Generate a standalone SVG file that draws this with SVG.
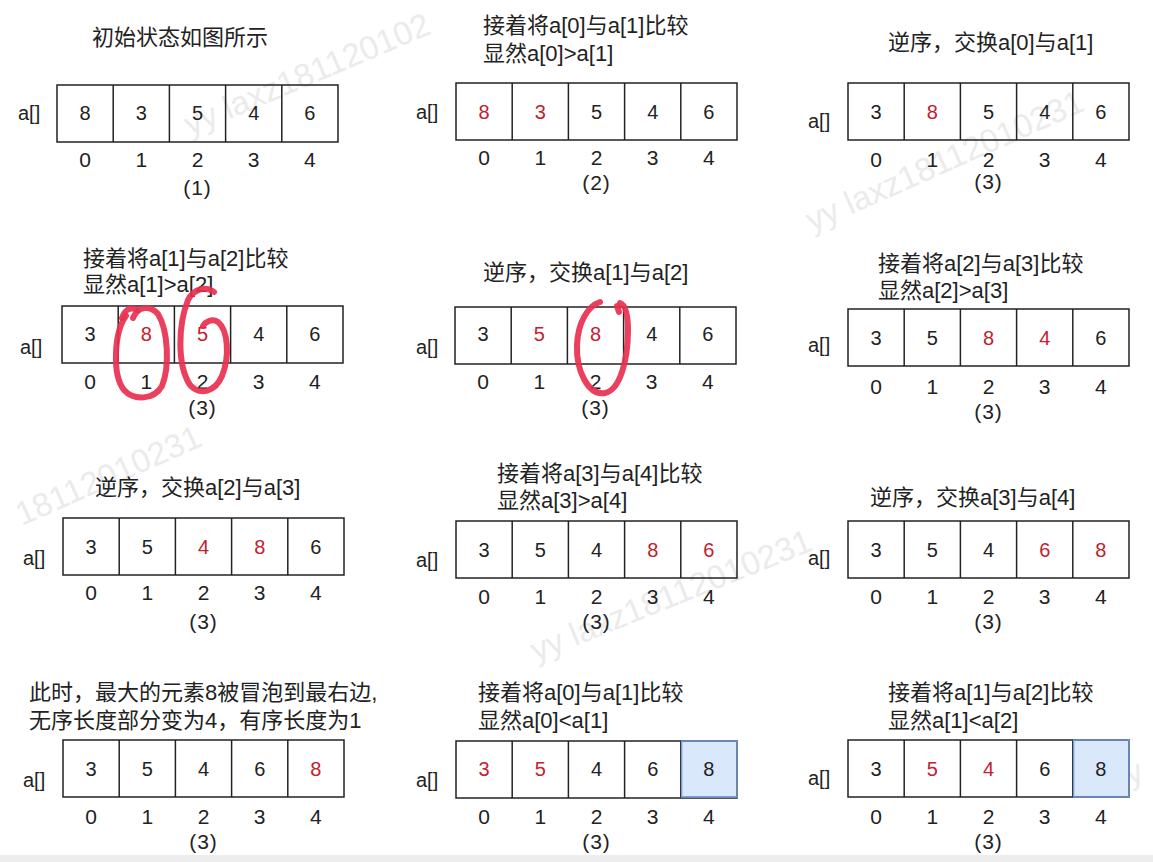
<svg xmlns="http://www.w3.org/2000/svg" width="1153" height="862" viewBox="0 0 1153 862">
<style>
text{font-family:"Liberation Sans","Noto Sans CJK SC",sans-serif;fill:#222}
.t{font-size:22px}
.v{font-size:20px;text-anchor:middle}
.r{fill:#c4202e}
.i{font-size:21px;text-anchor:middle}
.l{font-size:21px;text-anchor:middle;letter-spacing:1px}
.a{font-size:20px}
.box{fill:none;stroke:#222;stroke-width:1.5}
.blue{fill:#dae8fc;stroke:#7a9cd0;stroke-width:1.5}
.wm{font-size:33px;fill:#dcdcdc;opacity:0.55}
.ink{fill:none;stroke:#e8304f;stroke-width:6;stroke-linecap:round;stroke-linejoin:round;opacity:0.92}
</style>
<defs>
<g id="cells">
<rect class="box" x="0" y="0" width="281" height="57"/>
<line class="box" x1="56.2" y1="0" x2="56.2" y2="57"/>
<line class="box" x1="112.4" y1="0" x2="112.4" y2="57"/>
<line class="box" x1="168.6" y1="0" x2="168.6" y2="57"/>
<line class="box" x1="224.8" y1="0" x2="224.8" y2="57"/>
</g>
</defs>
<rect width="1153" height="862" fill="#fff"/>
<rect x="0" y="855" width="1153" height="7" fill="#ededed"/>

<g id="watermarks">
<text class="wm" x="190" y="136" transform="rotate(-23 190 136)">yy laxz181120102</text>
<text class="wm" x="812" y="232" transform="rotate(-24 812 232)">yy laxz18112010231</text>
<text class="wm" x="204" y="445" text-anchor="end" transform="rotate(-24 204 445)">18112010231</text>
<text class="wm" x="536" y="662" transform="rotate(-22 536 662)">yy laxz18112010231</text>
<text class="wm" x="1115" y="792" transform="rotate(-22 1115 792)">yy</text>
</g>

<g id="p1">
<text class="t" x="92" y="45">初始状态如图所示</text>
<text class="a" x="18" y="120">a[]</text>
<use href="#cells" x="57" y="85"/>
<g transform="translate(57,120)"><text class="v" x="28.1">8</text><text class="v" x="84.3">3</text><text class="v" x="140.5">5</text><text class="v" x="196.7">4</text><text class="v" x="252.9">6</text></g>
<g transform="translate(57,167)"><text class="i" x="28.1">0</text><text class="i" x="84.3">1</text><text class="i" x="140.5">2</text><text class="i" x="196.7">3</text><text class="i" x="252.9">4</text></g>
<text class="l" x="197.5" y="195">(1)</text>
</g>

<g id="p2">
<text class="t" x="483" y="33">接着将a[0]与a[1]比较</text>
<text class="t" x="483" y="61">显然a[0]&gt;a[1]</text>
<text class="a" x="416" y="119">a[]</text>
<use href="#cells" x="456" y="83"/>
<g transform="translate(456,119)"><text class="v r" x="28.1">8</text><text class="v r" x="84.3">3</text><text class="v" x="140.5">5</text><text class="v" x="196.7">4</text><text class="v" x="252.9">6</text></g>
<g transform="translate(456,165)"><text class="i" x="28.1">0</text><text class="i" x="84.3">1</text><text class="i" x="140.5">2</text><text class="i" x="196.7">3</text><text class="i" x="252.9">4</text></g>
<text class="l" x="596.5" y="190">(2)</text>
</g>

<g id="p3">
<text class="t" x="888" y="50">逆序，交换a[0]与a[1]</text>
<text class="a" x="808" y="128">a[]</text>
<use href="#cells" x="848" y="83"/>
<g transform="translate(848,119)"><text class="v" x="28.1">3</text><text class="v r" x="84.3">8</text><text class="v" x="140.5">5</text><text class="v" x="196.7">4</text><text class="v" x="252.9">6</text></g>
<g transform="translate(848,167)"><text class="i" x="28.1">0</text><text class="i" x="84.3">1</text><text class="i" x="140.5">2</text><text class="i" x="196.7">3</text><text class="i" x="252.9">4</text></g>
<text class="l" x="988.5" y="189">(3)</text>
</g>

<g id="p4">
<text class="t" x="83" y="266">接着将a[1]与a[2]比较</text>
<text class="t" x="83" y="292">显然a[1]&gt;a[2]</text>
<text class="a" x="20" y="354">a[]</text>
<use href="#cells" x="62" y="306"/>
<g transform="translate(62,341)"><text class="v" x="28.1">3</text><text class="v r" x="84.3">8</text><text class="v r" x="140.5">5</text><text class="v" x="196.7">4</text><text class="v" x="252.9">6</text></g>
<g transform="translate(62,389)"><text class="i" x="28.1">0</text><text class="i" x="84.3">1</text><text class="i" x="140.5">2</text><text class="i" x="196.7">3</text><text class="i" x="252.9">4</text></g>
<text class="l" x="202.5" y="415">(3)</text>
<path class="ink" d="M126 316 C114 332 112 375 124 390 C134 401 154 400 162 386 C170 366 168 330 158 314 C150 305 138 306 133 318"/>
<path class="ink" d="M122 318 C125 310 130 306 137 310"/>
<path class="ink" d="M214 292 C205 285 193 290 188 300 C178 325 177 365 190 385 C200 396 215 392 222 376 C230 356 228 330 218 322 C212 318 205 322 203 326"/>
</g>

<g id="p5">
<text class="t" x="483" y="280">逆序，交换a[1]与a[2]</text>
<text class="a" x="416" y="354">a[]</text>
<use href="#cells" x="455" y="307"/>
<g transform="translate(455,341)"><text class="v" x="28.1">3</text><text class="v r" x="84.3">5</text><text class="v r" x="140.5">8</text><text class="v" x="196.7">4</text><text class="v" x="252.9">6</text></g>
<g transform="translate(455,389)"><text class="i" x="28.1">0</text><text class="i" x="84.3">1</text><text class="i" x="140.5">2</text><text class="i" x="196.7">3</text><text class="i" x="252.9">4</text></g>
<text class="l" x="595.5" y="415">(3)</text>
<path class="ink" d="M600 302 C588 306 578 322 577 345 C576 370 588 396 605 393 C620 390 628 360 628 330 C628 315 626 305 620 303"/>
<path class="ink" d="M617 306 L619 312"/>
</g>

<g id="p6">
<text class="t" x="878" y="271">接着将a[2]与a[3]比较</text>
<text class="t" x="878" y="298">显然a[2]&gt;a[3]</text>
<text class="a" x="808" y="352">a[]</text>
<use href="#cells" x="848" y="309"/>
<g transform="translate(848,345)"><text class="v" x="28.1">3</text><text class="v" x="84.3">5</text><text class="v r" x="140.5">8</text><text class="v r" x="196.7">4</text><text class="v" x="252.9">6</text></g>
<g transform="translate(848,394)"><text class="i" x="28.1">0</text><text class="i" x="84.3">1</text><text class="i" x="140.5">2</text><text class="i" x="196.7">3</text><text class="i" x="252.9">4</text></g>
<text class="l" x="988.5" y="419">(3)</text>
</g>

<g id="p7">
<text class="t" x="95" y="495">逆序，交换a[2]与a[3]</text>
<text class="a" x="23" y="565">a[]</text>
<use href="#cells" x="63" y="518"/>
<g transform="translate(63,554)"><text class="v" x="28.1">3</text><text class="v" x="84.3">5</text><text class="v r" x="140.5">4</text><text class="v r" x="196.7">8</text><text class="v" x="252.9">6</text></g>
<g transform="translate(63,600)"><text class="i" x="28.1">0</text><text class="i" x="84.3">1</text><text class="i" x="140.5">2</text><text class="i" x="196.7">3</text><text class="i" x="252.9">4</text></g>
<text class="l" x="203.5" y="629">(3)</text>
</g>

<g id="p8">
<text class="t" x="497" y="481">接着将a[3]与a[4]比较</text>
<text class="t" x="497" y="508">显然a[3]&gt;a[4]</text>
<text class="a" x="416" y="567">a[]</text>
<use href="#cells" x="456" y="521"/>
<g transform="translate(456,557)"><text class="v" x="28.1">3</text><text class="v" x="84.3">5</text><text class="v" x="140.5">4</text><text class="v r" x="196.7">8</text><text class="v r" x="252.9">6</text></g>
<g transform="translate(456,604)"><text class="i" x="28.1">0</text><text class="i" x="84.3">1</text><text class="i" x="140.5">2</text><text class="i" x="196.7">3</text><text class="i" x="252.9">4</text></g>
<text class="l" x="596.5" y="629">(3)</text>
</g>

<g id="p9">
<text class="t" x="870" y="505">逆序，交换a[3]与a[4]</text>
<text class="a" x="808" y="565">a[]</text>
<use href="#cells" x="848" y="521"/>
<g transform="translate(848,557)"><text class="v" x="28.1">3</text><text class="v" x="84.3">5</text><text class="v" x="140.5">4</text><text class="v r" x="196.7">6</text><text class="v r" x="252.9">8</text></g>
<g transform="translate(848,604)"><text class="i" x="28.1">0</text><text class="i" x="84.3">1</text><text class="i" x="140.5">2</text><text class="i" x="196.7">3</text><text class="i" x="252.9">4</text></g>
<text class="l" x="988.5" y="629">(3)</text>
</g>

<g id="p10">
<text class="t" x="29" y="700">此时，最大的元素8被冒泡到最右边,</text>
<text class="t" x="29" y="728">无序长度部分变为4，有序长度为1</text>
<text class="a" x="23" y="787">a[]</text>
<use href="#cells" x="63" y="740"/>
<g transform="translate(63,776)"><text class="v" x="28.1">3</text><text class="v" x="84.3">5</text><text class="v" x="140.5">4</text><text class="v" x="196.7">6</text><text class="v r" x="252.9">8</text></g>
<g transform="translate(63,824)"><text class="i" x="28.1">0</text><text class="i" x="84.3">1</text><text class="i" x="140.5">2</text><text class="i" x="196.7">3</text><text class="i" x="252.9">4</text></g>
<text class="l" x="203.5" y="849">(3)</text>
</g>

<g id="p11">
<text class="t" x="478" y="700">接着将a[0]与a[1]比较</text>
<text class="t" x="478" y="728">显然a[0]&lt;a[1]</text>
<text class="a" x="416" y="787">a[]</text>
<rect class="blue" x="680.8" y="741" width="56.2" height="56"/>
<use href="#cells" x="456" y="741"/>
<rect x="681.6" y="741" width="55.4" height="56" fill="none" stroke="#7a9cd0" stroke-width="1.5"/>
<g transform="translate(456,776)"><text class="v r" x="28.1">3</text><text class="v r" x="84.3">5</text><text class="v" x="140.5">4</text><text class="v" x="196.7">6</text><text class="v" x="252.9">8</text></g>
<g transform="translate(456,824)"><text class="i" x="28.1">0</text><text class="i" x="84.3">1</text><text class="i" x="140.5">2</text><text class="i" x="196.7">3</text><text class="i" x="252.9">4</text></g>
<text class="l" x="596.5" y="849">(3)</text>
</g>

<g id="p12">
<text class="t" x="888" y="700">接着将a[1]与a[2]比较</text>
<text class="t" x="888" y="728">显然a[1]&lt;a[2]</text>
<text class="a" x="808" y="785">a[]</text>
<rect class="blue" x="1072.8" y="740" width="56.2" height="57"/>
<use href="#cells" x="848" y="740"/>
<rect x="1073.6" y="740" width="55.4" height="57" fill="none" stroke="#7a9cd0" stroke-width="1.5"/>
<g transform="translate(848,776)"><text class="v" x="28.1">3</text><text class="v r" x="84.3">5</text><text class="v r" x="140.5">4</text><text class="v" x="196.7">6</text><text class="v" x="252.9">8</text></g>
<g transform="translate(848,824)"><text class="i" x="28.1">0</text><text class="i" x="84.3">1</text><text class="i" x="140.5">2</text><text class="i" x="196.7">3</text><text class="i" x="252.9">4</text></g>
<text class="l" x="988.5" y="849">(3)</text>
</g>
</svg>
